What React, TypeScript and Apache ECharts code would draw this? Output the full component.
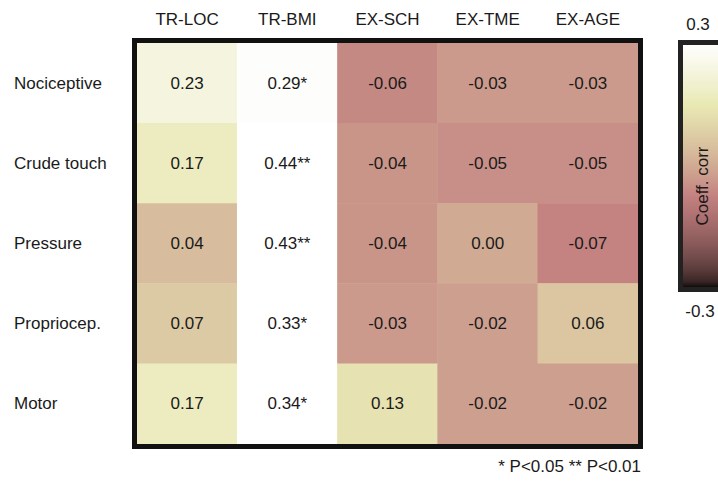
import React, { useEffect, useRef } from "react";
import * as echarts from "echarts";

// Sensory outcomes (rows) vs. predictors (columns)
const rowLabels = ["Nociceptive", "Crude touch", "Pressure", "Propriocep.", "Motor"];
const colLabels = ["TR-LOC", "TR-BMI", "EX-SCH", "EX-TME", "EX-AGE"];

// Correlation coefficients, one array per row
const nociceptive = [0.23, 0.29, -0.06, -0.03, -0.03];
const crudeTouch = [0.17, 0.44, -0.04, -0.05, -0.05];
const pressure = [0.04, 0.43, -0.04, 0.0, -0.07];
const proprioception = [0.07, 0.33, -0.03, -0.02, 0.06];
const motor = [0.17, 0.34, 0.13, -0.02, -0.02];

// Significance markers (* P<0.05, ** P<0.01)
const sigNociceptive = ["", "*", "", "", ""];
const sigCrudeTouch = ["", "**", "", "", ""];
const sigPressure = ["", "**", "", "", ""];
const sigProprioception = ["", "*", "", "", ""];
const sigMotor = ["", "*", "", "", ""];

// Colour scale limits
const scaleMin = -0.3;
const scaleMax = 0.3;
const scaleTickLabels = ["0.3", "-0.3"];

const values = [nociceptive, crudeTouch, pressure, proprioception, motor];
const marks = [sigNociceptive, sigCrudeTouch, sigPressure, sigProprioception, sigMotor];

const FONT = "'Liberation Sans', Arial, Helvetica, sans-serif";

// "pink" colormap: sqrt((2*gray + hot) / 3)
function pinkColor(t: number): string {
  const c = (x: number) => Math.max(0, Math.min(1, x));
  const hr = c(t / 0.375);
  const hg = c((t - 0.375) / 0.375);
  const hb = c((t - 0.75) / 0.25);
  const r = Math.sqrt((2 * t + hr) / 3);
  const g = Math.sqrt((2 * t + hg) / 3);
  const b = Math.sqrt((2 * t + hb) / 3);
  const h = (v: number) => Math.round(v * 255);
  return `rgb(${h(r)},${h(g)},${h(b)})`;
}

const STEPS = 32;
const paletteLowToHigh = Array.from({ length: STEPS + 1 }, (_, i) => pinkColor(i / STEPS));

export default function App() {
  const ref = useRef<HTMLDivElement>(null);

  useEffect(() => {
    if (!ref.current) return;
    const chart = echarts.init(ref.current, null, { renderer: "svg" });

    const data: any[] = [];
    values.forEach((row, ri) => {
      row.forEach((v, ci) => {
        const clamped = Math.max(scaleMin, Math.min(scaleMax, v));
        data.push({ value: [ci, ri, clamped, v], sig: marks[ri][ci] });
      });
    });

    const gradientStops = paletteLowToHigh
      .map((color, i) => ({ offset: 1 - i / STEPS, color }))
      .reverse();

    chart.setOption({
      animation: false,
      backgroundColor: "#ffffff",
      textStyle: { fontFamily: FONT },
      grid: { left: 137, top: 43, width: 501, height: 401, containLabel: false },
      xAxis: {
        type: "category",
        data: colLabels,
        position: "top",
        axisLine: { show: false },
        axisTick: { show: false },
        splitArea: { show: false },
        axisLabel: { fontSize: 17, color: "#1a1a1a", margin: 15, fontFamily: FONT },
      },
      yAxis: {
        type: "category",
        data: rowLabels,
        inverse: true,
        axisLine: { show: false },
        axisTick: { show: false },
        splitArea: { show: false },
        axisLabel: { fontSize: 17, color: "#1a1a1a", align: "left", margin: 123, fontFamily: FONT },
      },
      visualMap: {
        show: false,
        type: "continuous",
        dimension: 2,
        min: scaleMin,
        max: scaleMax,
        inRange: { color: paletteLowToHigh },
      },
      series: [
        {
          type: "heatmap",
          data,
          itemStyle: { borderWidth: 0 },
          label: {
            show: true,
            fontSize: 17,
            color: "#1a1a1a",
            fontFamily: FONT,
            formatter: (p: any) => p.value[3].toFixed(2) + (p.data.sig || ""),
          },
          emphasis: { disabled: true },
        },
      ],
      graphic: [
        // frame around the matrix
        {
          type: "rect",
          z: 100,
          shape: { x: 134.5, y: 40.5, width: 506, height: 406 },
          style: { fill: "none", stroke: "#111", lineWidth: 5 },
        },
        // colour bar
        {
          type: "rect",
          z: 100,
          shape: { x: 680.5, y: 42.5, width: 60, height: 247 },
          style: {
            fill: new echarts.graphic.LinearGradient(0, 0, 0, 1, gradientStops),
            stroke: "#222",
            lineWidth: 5,
          },
        },
        {
          type: "text",
          z: 101,
          x: 698,
          y: 24,
          style: {
            text: scaleTickLabels[0],
            fontSize: 17,
            fontFamily: FONT,
            fill: "#1a1a1a",
            align: "center",
            verticalAlign: "middle",
          },
        },
        {
          type: "text",
          z: 101,
          x: 700,
          y: 311,
          style: {
            text: scaleTickLabels[1],
            fontSize: 17,
            fontFamily: FONT,
            fill: "#1a1a1a",
            align: "center",
            verticalAlign: "middle",
          },
        },
        {
          type: "text",
          z: 101,
          x: 702,
          y: 186,
          rotation: Math.PI / 2,
          style: {
            text: "Coeff. corr",
            fontSize: 17,
            fontFamily: FONT,
            fill: "#1a1a1a",
            align: "center",
            verticalAlign: "middle",
          },
        },
        // significance legend
        {
          type: "text",
          z: 101,
          x: 641,
          y: 466,
          style: {
            text: "* P<0.05 ** P<0.01",
            fontSize: 17,
            fontFamily: FONT,
            fill: "#1a1a1a",
            align: "right",
            verticalAlign: "middle",
          },
        },
      ],
    });

    return () => chart.dispose();
  }, []);

  return (
    <div
      ref={ref}
      style={{ position: "absolute", left: 0, top: 0, width: 718, height: 485 }}
    />
  );
}
